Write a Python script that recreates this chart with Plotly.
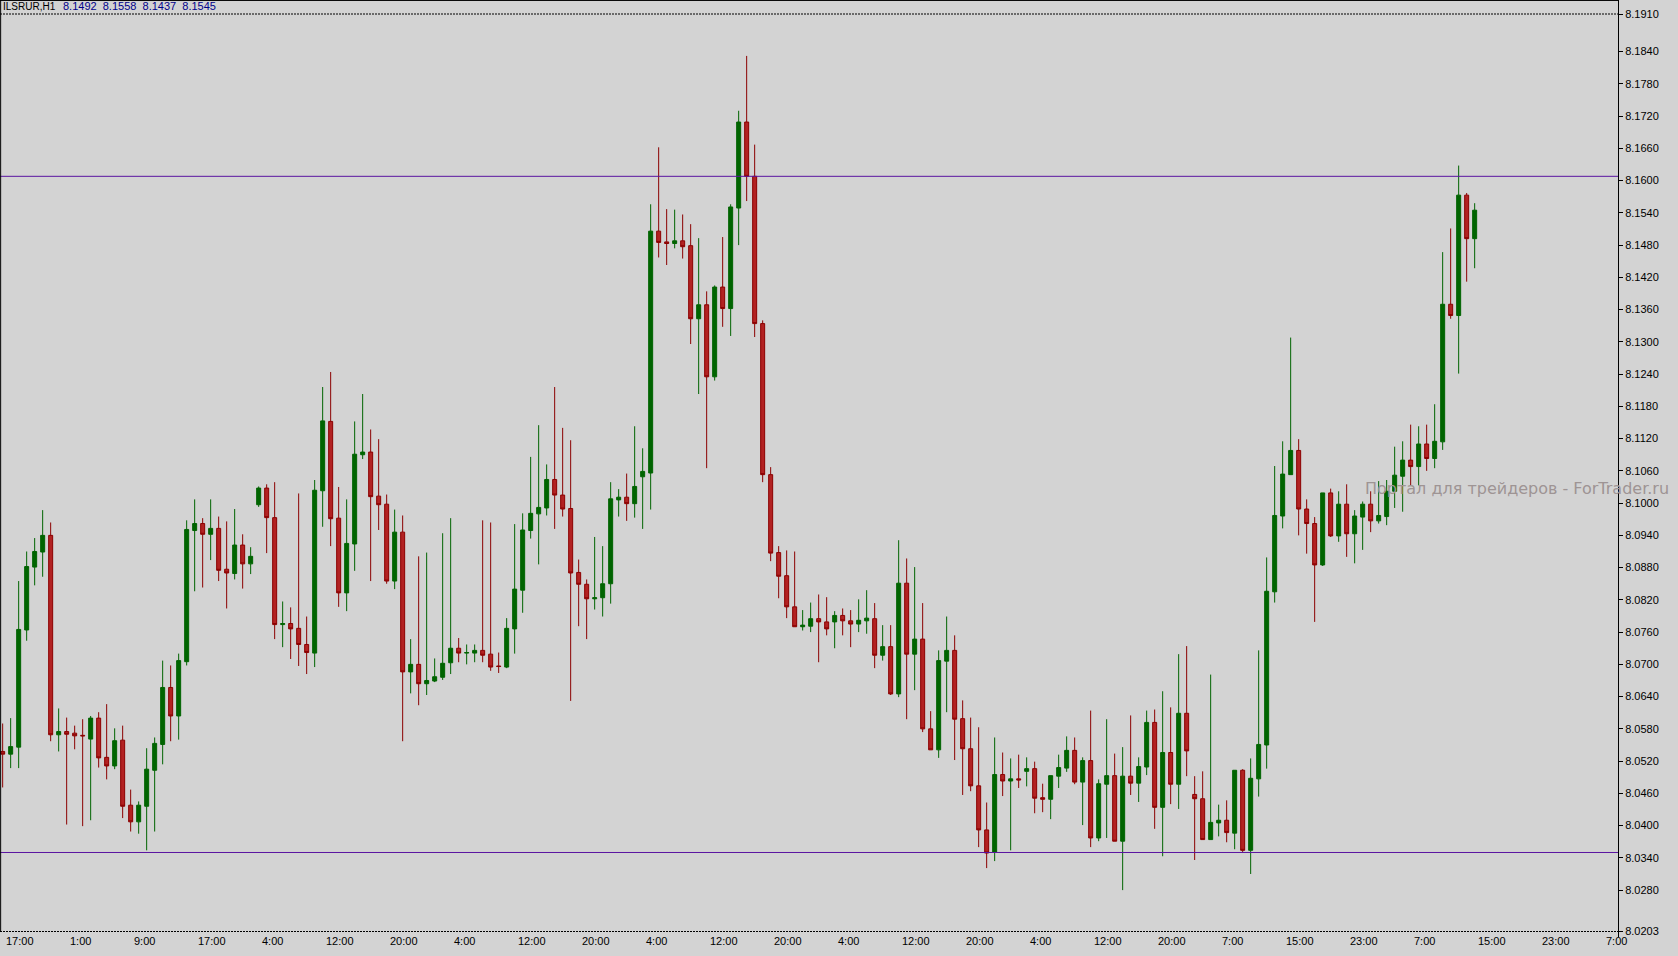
import plotly.graph_objects as go

# ---------------- data (ILSRUR, H1) ----------------
opens = [8.0538, 8.0533, 8.0546, 8.0764, 8.0881, 8.0909, 8.0940, 8.0569, 8.0575, 8.0572,
         8.0568, 8.0561, 8.0600, 8.0527, 8.0511, 8.0559, 8.0438, 8.0407, 8.0436, 8.0503,
         8.0551, 8.0657, 8.0604, 8.0705, 8.0949, 8.0962, 8.0942, 8.0953, 8.0877, 8.0869,
         8.0922, 8.0887, 8.0997, 8.1028, 8.0973, 8.0774, 8.0776, 8.0767, 8.0737, 8.0721,
         8.1023, 8.1152, 8.0972, 8.0833, 8.0924, 8.1090, 8.1095, 8.1013, 8.0998, 8.0855,
         8.0946, 8.0686, 8.0700, 8.0664, 8.0669, 8.0676, 8.0703, 8.0730, 8.0721, 8.0721,
         8.0726, 8.0719, 8.0697, 8.0695, 8.0766, 8.0838, 8.0949, 8.0980, 8.0991, 8.1044,
         8.1015, 8.0990, 8.0871, 8.0849, 8.0822, 8.0824, 8.0850, 8.1006, 8.1011, 8.0999,
         8.1049, 8.1056, 8.1506, 8.1486, 8.1483, 8.1488, 8.1479, 8.1343, 8.1369, 8.1235,
         8.1402, 8.1362, 8.1549, 8.1709, 8.1608, 8.1334, 8.1053, 8.0908, 8.0865, 8.0807,
         8.0770, 8.0771, 8.0785, 8.0779, 8.0779, 8.0791, 8.0781, 8.0775, 8.0781, 8.0785,
         8.0717, 8.0733, 8.0645, 8.0851, 8.0719, 8.0747, 8.0580, 8.0541, 8.0706, 8.0726,
         8.0599, 8.0543, 8.0474, 8.0392, 8.0351, 8.0495, 8.0483, 8.0487, 8.0501, 8.0506,
         8.0452, 8.0449, 8.0492, 8.0507, 8.0540, 8.0481, 8.0521, 8.0377, 8.0477, 8.0493,
         8.0371, 8.0492, 8.0479, 8.0509, 8.0592, 8.0434, 8.0536, 8.0477, 8.0609, 8.0458,
         8.0450, 8.0374, 8.0405, 8.0410, 8.0386, 8.0503, 8.0354, 8.0487, 8.0550, 8.0835,
         8.0976, 8.1053, 8.1098, 8.0989, 8.0962, 8.0885, 8.1019, 8.0939, 8.0998, 8.0943,
         8.0974, 8.0998, 8.0967, 8.0975, 8.1022, 8.1050, 8.1080, 8.1068, 8.1110, 8.1083,
         8.1114, 8.1370, 8.1349, 8.1573, 8.1492]
highs = [8.0590, 8.0600, 8.0855, 8.0910, 8.0935, 8.0987, 8.0964, 8.0618, 8.0601, 8.0586,
         8.0598, 8.0604, 8.0611, 8.0626, 8.0581, 8.0586, 8.0467, 8.0445, 8.0544, 8.0564,
         8.0707, 8.0698, 8.0720, 8.0968, 8.1007, 8.0972, 8.1007, 8.0975, 8.0966, 8.0989,
         8.0942, 8.0918, 8.1031, 8.1035, 8.1039, 8.0817, 8.0806, 8.1018, 8.0789, 8.1043,
         8.1216, 8.1244, 8.1030, 8.1007, 8.1152, 8.1203, 8.1137, 8.1119, 8.1016, 8.0988,
         8.0977, 8.0747, 8.0901, 8.0908, 8.0711, 8.0944, 8.0972, 8.0749, 8.0737, 8.0737,
         8.0968, 8.0964, 8.0722, 8.0786, 8.0961, 8.0981, 8.1086, 8.1145, 8.1072, 8.1216,
         8.1140, 8.1117, 8.0895, 8.0858, 8.0937, 8.0920, 8.1039, 8.1026, 8.1055, 8.1143,
         8.1102, 8.1556, 8.1662, 8.1547, 8.1546, 8.1537, 8.1519, 8.1493, 8.1394, 8.1405,
         8.1495, 8.1556, 8.1730, 8.1832, 8.1667, 8.1340, 8.1067, 8.0920, 8.0912, 8.0910,
         8.0801, 8.0815, 8.0830, 8.0825, 8.0799, 8.0804, 8.0801, 8.0821, 8.0838, 8.0814,
         8.0773, 8.0773, 8.0931, 8.0897, 8.0881, 8.0814, 8.0613, 8.0726, 8.0789, 8.0754,
         8.0633, 8.0601, 8.0583, 8.0443, 8.0564, 8.0536, 8.0525, 8.0532, 8.0527, 8.0519,
         8.0478, 8.0493, 8.0532, 8.0566, 8.0564, 8.0527, 8.0614, 8.0486, 8.0598, 8.0534,
         8.0546, 8.0605, 8.0527, 8.0614, 8.0616, 8.0650, 8.0620, 8.0719, 8.0734, 8.0492,
         8.0501, 8.0681, 8.0439, 8.0447, 8.0503, 8.0505, 8.0525, 8.0726, 8.0899, 8.1069,
         8.1115, 8.1308, 8.1119, 8.1007, 8.0974, 8.1019, 8.1027, 8.1022, 8.1035, 8.0987,
         8.1003, 8.1022, 8.1041, 8.1043, 8.1105, 8.1115, 8.1146, 8.1143, 8.1146, 8.1184,
         8.1467, 8.1511, 8.1628, 8.1577, 8.1558]
lows = [8.0471, 8.0507, 8.0507, 8.0744, 8.0847, 8.0863, 8.0557, 8.0538, 8.0402, 8.0542,
        8.0399, 8.0410, 8.0508, 8.0486, 8.0505, 8.0414, 8.0389, 8.0385, 8.0354, 8.0389,
        8.0514, 8.0557, 8.0560, 8.0698, 8.0836, 8.0843, 8.0894, 8.0855, 8.0804, 8.0858,
        8.0841, 8.0868, 8.0993, 8.0907, 8.0747, 8.0732, 8.0710, 8.0697, 8.0682, 8.0695,
        8.0956, 8.0920, 8.0807, 8.0799, 8.0874, 8.1082, 8.0855, 8.0950, 8.0850, 8.0840,
        8.0557, 8.0646, 8.0624, 8.0643, 8.0667, 8.0671, 8.0682, 8.0704, 8.0700, 8.0704,
        8.0704, 8.0688, 8.0684, 8.0693, 8.0720, 8.0796, 8.0934, 8.0886, 8.0977, 8.0952,
        8.0975, 8.0632, 8.0771, 8.0747, 8.0802, 8.0789, 8.0813, 8.0975, 8.0967, 8.0973,
        8.0952, 8.0988, 8.1457, 8.1443, 8.1474, 8.1455, 8.1296, 8.1203, 8.1065, 8.1228,
        8.1328, 8.1311, 8.1480, 8.1562, 8.1309, 8.1039, 8.0892, 8.0823, 8.0786, 8.0770,
        8.0763, 8.0760, 8.0704, 8.0754, 8.0730, 8.0754, 8.0732, 8.0760, 8.0757, 8.0693,
        8.0707, 8.0643, 8.0639, 8.0598, 8.0652, 8.0574, 8.0541, 8.0526, 8.0611, 8.0522,
        8.0457, 8.0464, 8.0360, 8.0321, 8.0334, 8.0455, 8.0354, 8.0470, 8.0473, 8.0423,
        8.0425, 8.0412, 8.0470, 8.0500, 8.0477, 8.0401, 8.0360, 8.0371, 8.0377, 8.0371,
        8.0280, 8.0457, 8.0444, 8.0494, 8.0394, 8.0343, 8.0440, 8.0431, 8.0492, 8.0336,
        8.0374, 8.0374, 8.0380, 8.0369, 8.0356, 8.0351, 8.0310, 8.0454, 8.0506, 8.0815,
        8.0953, 8.1053, 8.0940, 8.0906, 8.0779, 8.0883, 8.0937, 8.0928, 8.0900, 8.0888,
        8.0913, 8.0946, 8.0962, 8.0959, 8.0991, 8.0984, 8.1032, 8.1033, 8.1060, 8.1065,
        8.1099, 8.1343, 8.1241, 8.1412, 8.1437]
closes = [8.0533, 8.0547, 8.0765, 8.0882, 8.0910, 8.0940, 8.0569, 8.0575, 8.0570, 8.0567,
          8.0567, 8.0600, 8.0526, 8.0511, 8.0558, 8.0436, 8.0407, 8.0438, 8.0505, 8.0553,
          8.0657, 8.0604, 8.0707, 8.0951, 8.0962, 8.0942, 8.0953, 8.0875, 8.0870, 8.0922,
          8.0887, 8.0901, 8.1028, 8.0973, 8.0774, 8.0776, 8.0766, 8.0737, 8.0722, 8.1024,
          8.1153, 8.0971, 8.0833, 8.0925, 8.1091, 8.1095, 8.1012, 8.0997, 8.0855, 8.0946,
          8.0686, 8.0700, 8.0664, 8.0670, 8.0677, 8.0702, 8.0730, 8.0721, 8.0722, 8.0726,
          8.0717, 8.0695, 8.0696, 8.0767, 8.0840, 8.0950, 8.0981, 8.0992, 8.1044, 8.1015,
          8.0989, 8.0870, 8.0849, 8.0822, 8.0824, 8.0850, 8.1008, 8.1011, 8.0999, 8.1031,
          8.1059, 8.1506, 8.1485, 8.1483, 8.1488, 8.1477, 8.1343, 8.1369, 8.1235, 8.1402,
          8.1362, 8.1551, 8.1709, 8.1608, 8.1334, 8.1053, 8.0907, 8.0864, 8.0807, 8.0770,
          8.0773, 8.0785, 8.0779, 8.0766, 8.0791, 8.0781, 8.0775, 8.0782, 8.0786, 8.0717,
          8.0733, 8.0645, 8.0851, 8.0719, 8.0747, 8.0580, 8.0541, 8.0707, 8.0726, 8.0598,
          8.0543, 8.0474, 8.0392, 8.0349, 8.0495, 8.0483, 8.0487, 8.0485, 8.0506, 8.0451,
          8.0449, 8.0493, 8.0508, 8.0540, 8.0481, 8.0521, 8.0377, 8.0478, 8.0493, 8.0371,
          8.0492, 8.0479, 8.0510, 8.0592, 8.0434, 8.0536, 8.0477, 8.0609, 8.0539, 8.0450,
          8.0374, 8.0406, 8.0410, 8.0387, 8.0503, 8.0354, 8.0488, 8.0551, 8.0836, 8.0977,
          8.1054, 8.1098, 8.0989, 8.0962, 8.0885, 8.1019, 8.0939, 8.0998, 8.0943, 8.0976,
          8.0998, 8.0967, 8.0977, 8.1022, 8.1052, 8.1080, 8.1068, 8.1110, 8.1083, 8.1115,
          8.1370, 8.1349, 8.1573, 8.1492, 8.1545]

time_label_pos = [0, 8, 16, 24, 32, 40, 48, 56, 64, 72, 80, 88, 96, 104, 112, 120,
                  128, 136, 144, 152, 160, 168, 176, 184, 192, 200]
time_labels = ["17:00", "1:00", "9:00", "17:00", "4:00", "12:00", "20:00", "4:00",
               "12:00", "20:00", "4:00", "12:00", "20:00", "4:00", "12:00", "20:00",
               "4:00", "12:00", "20:00", "7:00", "15:00", "23:00", "7:00", "15:00",
               "23:00", "7:00"]
price_ticks = [8.0203, 8.0280, 8.0340, 8.0400, 8.0460, 8.0520, 8.0580, 8.0640, 8.0700,
               8.0760, 8.0820, 8.0880, 8.0940, 8.1000, 8.1060, 8.1120, 8.1180, 8.1240,
               8.1300, 8.1360, 8.1420, 8.1480, 8.1540, 8.1600, 8.1660, 8.1720, 8.1780,
               8.1840, 8.1910]
resistance_level = 8.1608
support_level = 8.0350
symbol = "ILSRUR,H1"
last_ohlc = "8.1492 8.1558 8.1437 8.1545"
watermark = "Портал для трейдеров - ForTrader.ru"

# ---------------- layout constants ----------------
W, H = 1678, 956
ML, MR, MT, MB = 0, 60, 0, 19
PW, PH = W - ML - MR, H - MT - MB
BAR_PX = 8.0
FIRST_PX = 2.67
PX_PER_PRICE = 917.5 / (price_ticks[-1] - price_ticks[0])
y_top = price_ticks[-1] + 14 / PX_PER_PRICE
y_bot = y_top - PH / PX_PER_PRICE
x_left = -FIRST_PX / BAR_PX
x_right = (PW - FIRST_PX) / BAR_PX

FONT = "Tahoma, 'Liberation Sans', Arial, sans-serif"
BG = "#D3D3D3"

idx = list(range(len(opens)))

fig = go.Figure()
fig.add_trace(go.Candlestick(
    x=idx, open=opens, high=highs, low=lows, close=closes,
    increasing=dict(line=dict(color="#006400", width=1), fillcolor="#006400"),
    decreasing=dict(line=dict(color="#8B0000", width=1), fillcolor="#B22222"),
    whiskerwidth=0, hoverinfo="skip", showlegend=False,
))

shapes = []
for lvl in (resistance_level, support_level):
    shapes.append(dict(type="line", xref="paper", yref="y", x0=0, x1=1, y0=lvl, y1=lvl,
                       line=dict(color="#5A14A0", width=1)))
for lvl in (price_ticks[-1], price_ticks[0]):
    shapes.append(dict(type="line", xref="paper", yref="y", x0=0, x1=1, y0=lvl, y1=lvl,
                       line=dict(color="black", width=1, dash="2px,1px")))
shapes.append(dict(type="line", xref="paper", yref="y", x0=0.0004, x1=0.0004,
                   y0=price_ticks[0], y1=y_top, line=dict(color="black", width=1)))
shapes.append(dict(type="line", xref="paper", yref="paper", x0=0, x1=1, y0=0.9995, y1=0.9995,
                   line=dict(color="black", width=1)))

annotations = []
for p, t in zip(time_label_pos, time_labels):
    annotations.append(dict(x=p + 0.2, y=-4.5 / PH, xref="x", yref="paper", text=t,
                            showarrow=False, xanchor="left", yanchor="middle",
                            font=dict(family=FONT, size=11, color="black")))
annotations.append(dict(x=1.0 / PW, y=1 - 6.5 / PH, xref="paper", yref="paper", text=symbol,
                        showarrow=False, xanchor="left", yanchor="middle",
                        font=dict(family=FONT, size=10, color="black")))
annotations.append(dict(x=61 / PW, y=1 - 6.5 / PH, xref="paper", yref="paper",
                        text=last_ohlc.replace(" ", "&nbsp;&nbsp;"),
                        showarrow=False, xanchor="left", yanchor="middle",
                        font=dict(family=FONT, size=11, color="#00008B")))
annotations.append(dict(x=1671 / PW, y=1 - 489 / PH, xref="paper", yref="paper", text=watermark,
                        showarrow=False, xanchor="right", yanchor="middle",
                        font=dict(family="'DejaVu Sans', Verdana, sans-serif", size=16,
                                  color="rgb(158,148,148)")))

fig.update_layout(
    width=W, height=H, autosize=False,
    margin=dict(l=ML, r=MR, t=MT, b=MB, pad=0),
    paper_bgcolor=BG, plot_bgcolor=BG,
    boxgap=0.5, boxgroupgap=0,
    showlegend=False,
    shapes=shapes, annotations=annotations,
    font=dict(family=FONT, size=11, color="black"),
    xaxis=dict(range=[x_left, x_right], showgrid=False, zeroline=False, showticklabels=False,
               ticks="", showline=False, rangeslider=dict(visible=False), fixedrange=True),
    yaxis=dict(range=[y_bot, y_top], side="right", showgrid=False, zeroline=False,
               showline=True, linecolor="black", linewidth=1,
               ticks="outside", ticklen=4, tickwidth=1, tickcolor="black",
               tickvals=price_ticks, ticktext=[f"{v:.4f}" for v in price_ticks],
               tickfont=dict(family=FONT, size=11, color="black"), fixedrange=True),
)

fig.write_html("out.html", config={"displayModeBar": False},
               post_script="document.body.style.margin='0';document.body.style.overflow='hidden';")
